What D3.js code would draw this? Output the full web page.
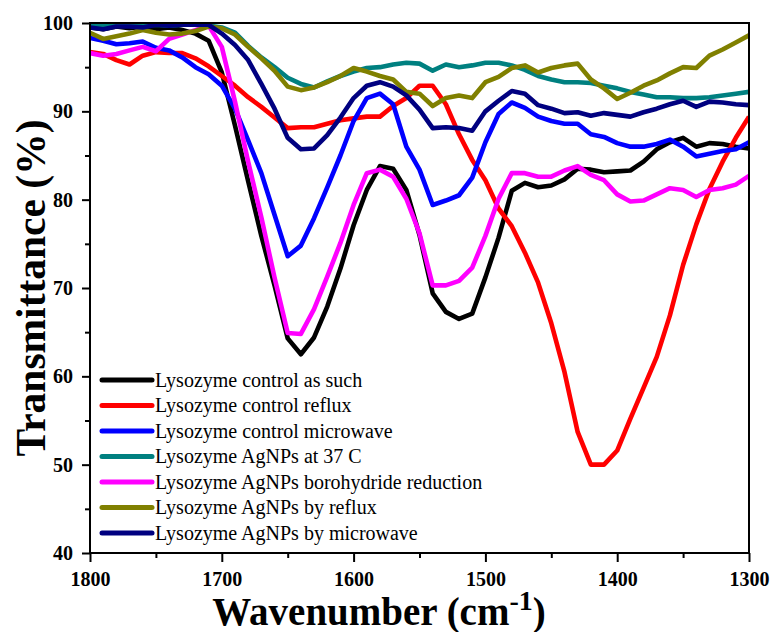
<!DOCTYPE html>
<html><head><meta charset="utf-8">
<script src="https://cdn.jsdelivr.net/npm/d3@7"></script>
<style>body{margin:0;background:#fff}</style>
</head><body><svg id="c" width="771" height="632"></svg>
<script>
const wavenumbers = [1800,1790,1780,1770,1760,1750,1740,1730,1720,1710,
  1700,1690,1680,1670,1660,1650,1640,1630,1620,1610,
  1600,1590,1580,1570,1560,1550,1540,1530,1520,1510,
  1500,1490,1480,1470,1460,1450,1440,1430,1420,1410,
  1400,1390,1380,1370,1360,1350,1340,1330,1320,1310,1300];

const seriesNames = ["Lysozyme control as such","Lysozyme control reflux","Lysozyme control microwave",
  "Lysozyme AgNPs at 37 C","Lysozyme AgNPs borohydride reduction","Lysozyme AgNPs by reflux","Lysozyme AgNPs by microwave"];
const seriesColors = ["#000000","#ff0000","#0000ff","#008080","#ff00ff","#808000","#000080"];

const controlAsSuch = [99.5,99.3,99.6,99.4,99.6,99.3,99.5,99.2,98.8,98.0,
  94.4,88.4,82.1,75.9,70.3,64.3,62.5,64.4,67.9,72.2,
  77.1,81.1,83.8,83.5,81.1,76.0,69.4,67.3,66.5,67.1,
  71.2,75.7,81.0,81.9,81.4,81.6,82.3,83.5,83.4,83.1,
  83.2,83.3,84.3,85.7,86.5,87.0,86.0,86.4,86.3,86.0,85.8];
const controlReflux = [96.7,96.5,95.8,95.3,96.3,96.7,96.6,96.6,96.0,95.1,
  94.0,92.9,91.6,90.5,89.3,88.1,88.2,88.2,88.6,89.0,
  89.2,89.4,89.4,90.6,91.5,92.9,92.9,90.8,87.4,84.5,
  82.2,79.0,77.0,74.0,70.6,66.0,60.5,53.7,50.0,50.0,
  51.6,55.2,58.7,62.2,66.9,72.6,77.2,81.2,84.3,87.0,89.4];
const controlMicrowave = [98.3,98.0,97.6,97.7,97.9,97.2,96.9,96.1,95.0,94.2,
  92.9,90.3,86.7,83.0,78.3,73.6,74.8,77.9,81.4,85.0,
  88.9,91.5,92.0,90.8,86.0,83.4,79.4,79.9,80.5,82.5,
  86.5,89.7,91.0,90.4,89.4,88.9,88.6,88.6,87.4,87.1,
  86.4,86.0,86.0,86.3,86.8,86.0,84.9,85.2,85.5,85.7,86.5];
const agnps37C = [99.7,99.8,99.7,99.8,99.7,99.8,99.7,99.8,99.8,99.7,
  99.5,98.9,97.4,96.1,95.0,93.8,93.1,92.7,93.4,94.0,
  94.5,94.9,95.0,95.3,95.5,95.4,94.6,95.3,95.0,95.2,
  95.5,95.5,95.2,94.7,94.0,93.6,93.3,93.3,93.2,92.9,
  92.6,92.2,91.9,91.6,91.6,91.5,91.5,91.6,91.8,92.0,92.2];
const agnpsBorohydride = [96.6,96.3,96.5,96.9,97.3,96.8,98.2,98.7,99.2,99.7,
  97.3,91.1,84.3,78.0,71.2,64.9,64.8,67.6,71.3,75.1,
  79.4,83.0,83.4,82.6,80.1,76.2,70.3,70.3,70.8,72.3,
  75.9,80.1,83.0,83.0,82.6,82.6,83.3,83.8,82.8,82.2,
  80.6,79.8,79.9,80.6,81.3,81.1,80.3,81.1,81.3,81.7,82.7];
const agnpsReflux = [98.9,98.2,98.5,98.8,99.2,98.9,98.7,98.8,99.1,99.6,
  99.4,98.7,97.3,96.0,94.6,92.8,92.4,92.7,93.3,94.0,
  94.9,94.5,94.0,93.6,92.2,92.0,90.6,91.5,91.8,91.5,
  93.3,93.9,94.9,95.2,94.4,94.9,95.2,95.4,93.6,92.6,
  91.4,92.1,92.9,93.5,94.3,95.0,94.9,96.3,97.0,97.8,98.6];
const agnpsMicrowave = [99.5,99.3,99.6,99.6,99.5,99.8,99.7,99.8,99.8,99.8,
  98.8,97.5,95.8,93.1,90.3,87.0,85.7,85.8,87.3,89.3,
  91.5,92.9,93.3,92.8,91.8,90.2,88.1,88.2,88.1,87.8,
  90.0,91.2,92.3,92.0,90.7,90.3,89.8,89.9,89.5,89.8,
  89.6,89.4,89.9,90.3,90.8,91.2,90.5,91.1,91.0,90.8,90.7];

const seriesValues = [controlAsSuch,controlReflux,controlMicrowave,agnps37C,agnpsBorohydride,agnpsReflux,agnpsMicrowave];

const xTicks = [1800,1700,1600,1500,1400,1300];
const xMinor = [1750,1650,1550,1450,1350];
const yTicks = [40,50,60,70,80,90,100];
const yMinor = [45,55,65,75,85,95];

const L = 90, R = 749, T = 23, B = 553;
const svg = d3.select('#c');
const x = d3.scaleLinear().domain([1800,1300]).range([L,R]);
const y = d3.scaleLinear().domain([40,100]).range([B,T]);
const serif = 'Liberation Serif, Times New Roman, DejaVu Serif, serif';

svg.append('defs').append('clipPath').attr('id','clip')
  .append('rect').attr('x',L).attr('y',T).attr('width',R-L).attr('height',B-T);

const line = d3.line().x((d,i)=>x(wavenumbers[i])).y(d=>y(d));
const g = svg.append('g').attr('clip-path','url(#clip)');
seriesValues.forEach((vals,k)=>{
  g.append('path').datum(vals).attr('d',line)
    .attr('fill','none').attr('stroke',seriesColors[k])
    .attr('stroke-width',4.6).attr('stroke-linejoin','round');
});

// axes
const xAxis = svg.append('g').attr('transform',`translate(0,${B})`)
  .call(d3.axisBottom(x).tickValues(xTicks).tickSize(9).tickSizeOuter(0).tickFormat(d3.format('d')).tickPadding(10));
const xAxisMinor = svg.append('g').attr('transform',`translate(0,${B})`)
  .call(d3.axisBottom(x).tickValues(xMinor).tickSize(5).tickFormat(''));
const yAxis = svg.append('g').attr('transform',`translate(${L},0)`)
  .call(d3.axisLeft(y).tickValues(yTicks).tickSize(8).tickSizeOuter(0).tickFormat(d3.format('d')).tickPadding(9));
const yAxisMinor = svg.append('g').attr('transform',`translate(${L},0)`)
  .call(d3.axisLeft(y).tickValues(yMinor).tickSize(5).tickFormat(''));
[xAxis,xAxisMinor,yAxis,yAxisMinor].forEach(a=>{
  a.select('.domain').remove();
  a.selectAll('line').attr('stroke','#000').attr('stroke-width',2);
  a.selectAll('text').attr('fill','#000').attr('font-family',serif).attr('font-weight','bold').attr('font-size',20);
});

svg.append('rect').attr('x',L).attr('y',T).attr('width',R-L).attr('height',B-T)
  .attr('fill','none').attr('stroke','#000').attr('stroke-width',2);

// titles
svg.append('text').attr('transform',`translate(45,${(T+B)/2}) rotate(-90)`)
  .attr('text-anchor','middle').attr('font-family',serif).attr('font-weight','bold').attr('font-size',41.5)
  .text('Transmittance (%)');
const xt = svg.append('text').attr('x',379).attr('y',625).attr('text-anchor','middle')
  .attr('font-family',serif).attr('font-weight','bold').attr('font-size',39);
xt.append('tspan').text('Wavenumber (cm');
xt.append('tspan').attr('dy',-15).attr('font-size',28).text('-1');
xt.append('tspan').attr('dy',15).text(')');

// legend
const legY0 = 380, legDy = 25.5;
seriesNames.forEach((name,k)=>{
  const yy = legY0 + k*legDy;
  svg.append('line').attr('x1',102).attr('x2',152).attr('y1',yy).attr('y2',yy)
    .attr('stroke',seriesColors[k]).attr('stroke-width',5).attr('stroke-linecap','round');
  svg.append('text').attr('x',155).attr('y',yy).attr('dy','0.33em')
    .attr('font-family',serif).attr('font-size',20).attr('fill','#000').text(name);
});
</script></body></html>
